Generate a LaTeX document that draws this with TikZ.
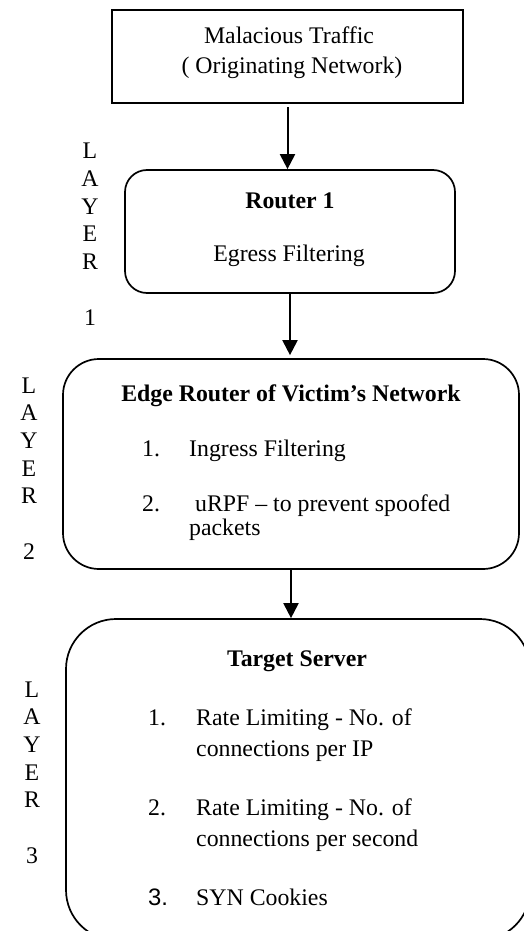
\documentclass[tikz,border=0pt]{standalone}
\usepackage{fontspec}
\setmainfont{Liberation Serif}
\newfontfamily\numsans{Liberation Sans}
\usetikzlibrary{arrows.meta,positioning,calc}
\newcommand{\bigtxt}{\fontsize{23.8}{27.7}\selectfont}
\newcommand{\layerword}[1]{L\\A\\Y\\E\\R\\[27.7pt]#1}
\tikzset{
  srcbox/.style={draw, line width=2.3pt, inner sep=0pt},
  stage/.style={draw, line width=1.7pt, rounded corners=#1, inner sep=0pt},
  flow/.style={-{Triangle[length=15pt,width=15pt]}, line width=2pt},
  txt/.style={font=\bigtxt, inner sep=0pt},
  head/.style={font=\bigtxt\bfseries, inner sep=0pt, anchor=base},
  lay/.style={font=\bigtxt, align=center, inner sep=0pt, anchor=base},
}

\begin{document}
\begin{tikzpicture}[x=1pt,y=-1pt]
  \useasboundingbox (0,0) rectangle (524,931);
  \clip (0,0) rectangle (524,931);
  % boxes
  \node[srcbox, minimum width=351pt, minimum height=93pt] (src) at (287.5,56.5) {};
  \node[stage=22pt, minimum width=330pt, minimum height=123pt] (r1) at (290,231.5) {};
  \node[stage=36pt, minimum width=456pt, minimum height=210pt] (edge) at (291,464) {};
  \node[stage=50pt, minimum width=464pt, minimum height=321pt] (tgt) at (298,779.5) {};
  % originating network
  \node[txt, anchor=base] (srca) at (289,43.3) {Malacious Traffic};
  \node[txt, anchor=base] (srcb) at (292,73.3) {( Originating Network)};
  % router 1
  \node[head] (r1h) at (290,208.3) {Router 1};
  \node[txt, anchor=base] (r1f) at (289,261.7) {Egress Filtering};
  % edge router
  \node[head] (edgeh) at (291,401.7) {Edge Router of Victim’s Network};
  \node[txt, anchor=base west] (e1n) at (142,456) {1.};
  \node[txt, anchor=base west] (e1) at (189,456) {Ingress Filtering};
  \node[txt, anchor=base west] (e2n) at (142,511.5) {2.};
  \node[txt, anchor=base west] (e2a) at (189,511.5) {\ uRPF – to prevent spoofed};
  \node[txt, anchor=base west] (e2b) at (189,535) {packets};
  % target server
  \node[head] (tgth) at (297,666.7) {Target Server};
  \node[txt, anchor=base west] (t1n) at (148,725) {1.};
  \node[txt, anchor=base west] (t1a) at (196,725) {Rate Limiting - No. of};
  \node[txt, anchor=base west] (t1b) at (196,756.5) {connections per IP};
  \node[txt, anchor=base west] (t2n) at (148,815) {2.};
  \node[txt, anchor=base west] (t2a) at (196,815) {Rate Limiting - No. of};
  \node[txt, anchor=base west] (t2b) at (196,846.7) {connections per second};
  \node[txt, anchor=base west] (t3n) at (148,905) {\numsans 3.};
  \node[txt, anchor=base west] (t3) at (196,905) {SYN Cookies};
  % layer labels (base is the last line)
  \node[lay] (lay1) at (90,325) {\layerword{1}};
  \node[lay] (lay2) at (29,559.3) {\layerword{2}};
  \node[lay] (lay3) at (32,863.3) {\layerword{3}};
  % arrows
  \draw[flow, shorten <=3pt] (src.south) -- (src.south |- r1.north);
  \draw[flow, shorten >=3pt] (r1.south) -- (r1.south |- edge.north);
  \draw[flow] (edge.south) -- (edge.south |- tgt.north);
\end{tikzpicture}
\end{document}
